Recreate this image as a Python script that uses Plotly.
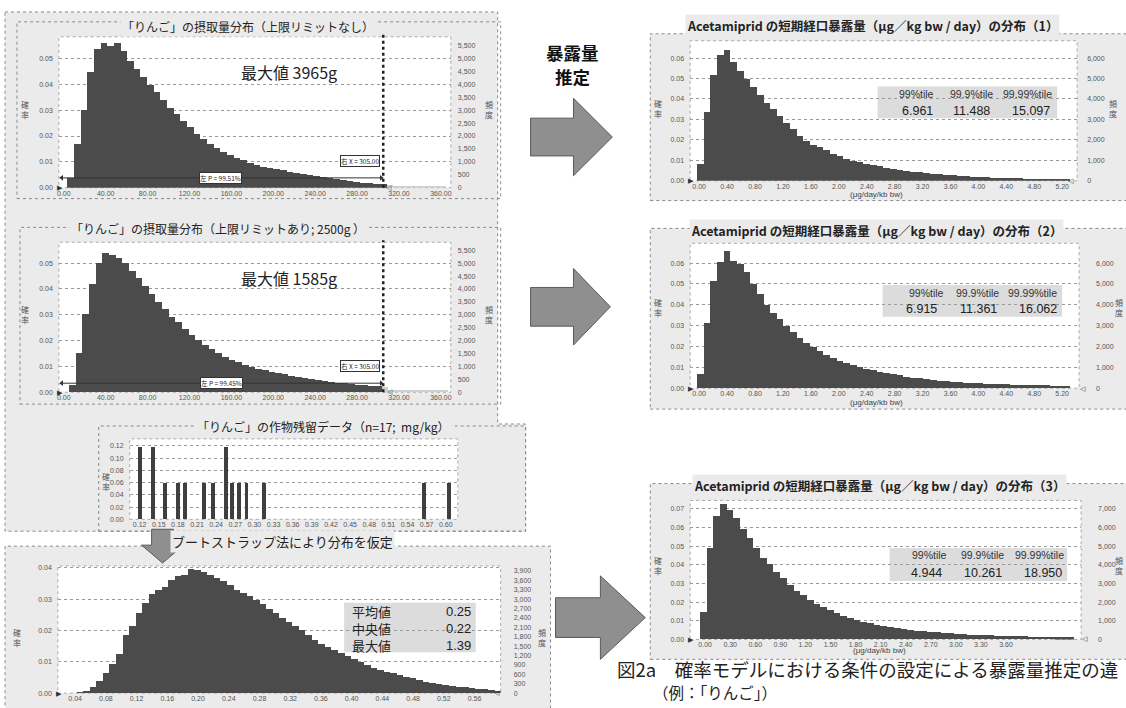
import plotly.graph_objects as go

W, H = 1126, 708
JP = "Noto Sans CJK JP"
NUM = "Liberation Sans"
BAR = "#4b4b4b"
TAIL = "#cfcfcf"
PANEL = "#ebebeb"
FRAME = "#8a8a8a"

# ------------------------------------------------------------------ DATA
# Panel A : apple intake distribution, no upper limit
a_title = "「りんご」の摂取量分布（上限リミットなし）"
a_note = "最大値 3965g"
a_bin_start = 3.2
a_bin_width = 6.35
a_prob = [0.004, 0.017, 0.030, 0.045, 0.054, 0.056, 0.055, 0.056, 0.053, 0.049,
          0.046, 0.043, 0.040, 0.037, 0.034, 0.031, 0.0285, 0.026, 0.0235, 0.021,
          0.019, 0.017, 0.0155, 0.014, 0.0128, 0.0117, 0.0107, 0.0098, 0.009, 0.0083,
          0.0077, 0.0072, 0.0068, 0.0063, 0.0058, 0.0053, 0.0049, 0.0045, 0.0041, 0.0037,
          0.0033, 0.003, 0.0027, 0.0024, 0.0021, 0.0019, 0.0017, 0.0015,
          0.0010, 0.0009, 0.0009, 0.0008, 0.0007, 0.0007, 0.0006, 0.0005, 0.0005]
a_cut = 305.0
a_cut_label = "右 X = 305.00"
a_pct_label = "左 P = 99.51%"

# Panel B : apple intake distribution, upper limit 2500 g
b_title = "「りんご」の摂取量分布（上限リミットあり; 2500g ）"
b_note = "最大値 1585g"
b_bin_start = 4.8
b_bin_width = 6.35
b_prob = [0.0026, 0.015, 0.030, 0.042, 0.050, 0.054, 0.053, 0.052, 0.050, 0.047,
          0.044, 0.041, 0.038, 0.035, 0.032, 0.029, 0.027, 0.0245, 0.022, 0.020,
          0.018, 0.0165, 0.015, 0.0135, 0.0125, 0.0115, 0.0105, 0.0097, 0.009, 0.0084,
          0.0078, 0.0073, 0.0068, 0.0063, 0.0058, 0.0054, 0.005, 0.0046, 0.0042, 0.0039,
          0.0036, 0.0033, 0.003, 0.0028, 0.0026, 0.0024, 0.0022, 0.002,
          0.0009, 0.0008, 0.0008, 0.0007, 0.0007, 0.0006, 0.0006, 0.0005, 0.0005]
b_cut = 305.0
b_cut_label = "右 X = 305.00"
b_pct_label = "左 P = 99.45%"

intake_xticks = [0, 40, 80, 120, 160, 200, 240, 280, 320, 360]
intake_xtext = ["0.00", "40.00", "80.00", "120.00", "160.00", "200.00", "240.00", "280.00", "320.00", "360.00"]
intake_yticks = [0, 0.01, 0.02, 0.03, 0.04, 0.05]
intake_ytext = ["0.00", "0.01", "0.02", "0.03", "0.04", "0.05"]
intake_rticks = [0, 500, 1000, 1500, 2000, 2500, 3000, 3500, 4000, 4500, 5000, 5500]
intake_rtext = ["0", "500", "1,000", "1,500", "2,000", "2,500", "3,000", "3,500", "4,000", "4,500", "5,000", "5,500"]

# Panel C : residue data (n=17, mg/kg)
c_title = "「りんご」の作物残留データ（n=17;  mg/kg）"
c_residue = [0.12, 0.14, 0.16, 0.18, 0.19, 0.22, 0.235, 0.255, 0.265, 0.275, 0.287, 0.315, 0.565, 0.605]
c_prob = [0.1176, 0.1176, 0.0588, 0.0588, 0.0588, 0.0588, 0.0588, 0.1176, 0.0588, 0.0588, 0.0588, 0.0588, 0.0588, 0.0588]
c_xticks = [0.12, 0.15, 0.18, 0.21, 0.24, 0.27, 0.30, 0.33, 0.36, 0.39, 0.42, 0.45, 0.48, 0.51, 0.54, 0.57, 0.60]
c_xtext = ["0.12", "0.15", "0.18", "0.21", "0.24", "0.27", "0.30", "0.33", "0.36", "0.39", "0.42", "0.45", "0.48", "0.51", "0.54", "0.57", "0.60"]
c_yticks = [0, 0.02, 0.04, 0.06, 0.08, 0.10, 0.12]
c_ytext = ["0.00", "0.02", "0.04", "0.06", "0.08", "0.10", "0.12"]

# Panel D : bootstrap distribution
d_title = "ブートストラップ法により分布を仮定"
d_bin_start = 0.042
d_bin_width = 0.0085
d_prob = [0.0003, 0.0008, 0.0019, 0.0038, 0.0065, 0.0093, 0.0124, 0.0186, 0.0215, 0.0257,
          0.0289, 0.0315, 0.0330, 0.0339, 0.0360, 0.0373, 0.0378, 0.0397, 0.0392, 0.0387,
          0.0378, 0.0368, 0.0358, 0.0345, 0.0330, 0.0320, 0.0310, 0.0296, 0.0284, 0.0268,
          0.0255, 0.0240, 0.0226, 0.0213, 0.0200, 0.0185, 0.0171, 0.0157, 0.0147, 0.0138,
          0.0129, 0.0118, 0.0109, 0.0099, 0.0089, 0.0081, 0.0074, 0.0068, 0.0063, 0.0057,
          0.0051, 0.0047, 0.0042, 0.0037, 0.0033, 0.0029, 0.0026, 0.0023, 0.0020, 0.0018,
          0.0016, 0.0014, 0.0012, 0.0010, 0.0008]
d_stat_names = ["平均値", "中央値", "最大値"]
d_stat_values = ["0.25", "0.22", "1.39"]
d_xticks = [0.04, 0.08, 0.12, 0.16, 0.20, 0.24, 0.28, 0.32, 0.36, 0.40, 0.44, 0.48, 0.52, 0.56]
d_xtext = ["0.04", "0.08", "0.12", "0.16", "0.20", "0.24", "0.28", "0.32", "0.36", "0.40", "0.44", "0.48", "0.52", "0.56"]
d_yticks = [0, 0.01, 0.02, 0.03, 0.04]
d_ytext = ["0.00", "0.01", "0.02", "0.03", "0.04"]
d_rticks = [0, 300, 600, 900, 1200, 1500, 1800, 2100, 2400, 2700, 3000, 3300, 3600, 3900]
d_rtext = ["0", "300", "600", "900", "1,200", "1,500", "1,800", "2,100", "2,400", "2,700", "3,000", "3,300", "3,600", "3,900"]

# Right panels : Acetamiprid short-term exposure
pct_names = ["99%tile", "99.9%tile", "99.99%tile"]
r1_title = "Acetamiprid の短期経口暴露量（μg／kg bw / day）の分布（1）"
r1_bin_start = -0.03
r1_bin_width = 0.0954
r1_prob = [0.0085, 0.034, 0.052, 0.0615, 0.064, 0.058, 0.054, 0.050, 0.046, 0.042,
           0.038, 0.035, 0.032, 0.0285, 0.0255, 0.022, 0.0195, 0.0175, 0.0165, 0.015,
           0.013, 0.012, 0.011, 0.010, 0.0093, 0.0085, 0.0078, 0.0072, 0.0066, 0.006,
           0.0055, 0.005, 0.0046, 0.0042, 0.0039, 0.0036, 0.0033, 0.003, 0.0028, 0.0026,
           0.0024, 0.0022, 0.002, 0.0019, 0.0017, 0.0016, 0.0015, 0.0014, 0.0013, 0.0012,
           0.0011, 0.0011, 0.001, 0.0009, 0.0009, 0.0008]
r1_pct = ["6.961", "11.488", "15.097"]

r2_title = "Acetamiprid の短期経口暴露量（μg／kg bw / day）の分布（2）"
r2_bin_start = -0.03
r2_bin_width = 0.0954
r2_prob = [0.0065, 0.031, 0.0515, 0.0605, 0.0655, 0.061, 0.0595, 0.0555, 0.050, 0.045,
           0.040, 0.036, 0.033, 0.0295, 0.027, 0.024, 0.0215, 0.0195, 0.0175, 0.016,
           0.0145, 0.013, 0.012, 0.011, 0.010, 0.0092, 0.0085, 0.0078, 0.0072, 0.0066,
           0.006, 0.0055, 0.005, 0.0046, 0.0042, 0.0038, 0.0035, 0.0032, 0.003, 0.0028,
           0.0026, 0.0024, 0.0022, 0.002, 0.0019, 0.0018, 0.0017, 0.0016, 0.0015, 0.0014,
           0.0013, 0.0012, 0.0012, 0.0011, 0.001, 0.001]
r2_pct = ["6.915", "11.361", "16.062"]

r_xticks = [0, 0.4, 0.8, 1.2, 1.6, 2.0, 2.4, 2.8, 3.2, 3.6, 4.0, 4.4, 4.8, 5.2]
r_xtext = ["0.00", "0.40", "0.80", "1.20", "1.60", "2.00", "2.40", "2.80", "3.20", "3.60", "4.00", "4.40", "4.80", "5.20"]
r_yticks = [0, 0.01, 0.02, 0.03, 0.04, 0.05, 0.06]
r_ytext = ["0.00", "0.01", "0.02", "0.03", "0.04", "0.05", "0.06"]
r_rticks = [0, 1000, 2000, 3000, 4000, 5000, 6000]
r_rtext = ["0", "1,000", "2,000", "3,000", "4,000", "5,000", "6,000"]

r3_title = "Acetamiprid の短期経口暴露量（μg／kg bw / day）の分布（3）"
r3_bin_start = -0.06
r3_bin_width = 0.08
r3_prob = [0.0145, 0.049, 0.066, 0.0725, 0.069, 0.065, 0.059, 0.054, 0.049, 0.0435,
           0.040, 0.036, 0.0325, 0.029, 0.026, 0.0235, 0.021, 0.019, 0.017, 0.0155,
           0.014, 0.0125, 0.0113, 0.0102, 0.0093, 0.0085, 0.0077, 0.007, 0.0064, 0.0058,
           0.0053, 0.0049, 0.0045, 0.0041, 0.0038, 0.0035, 0.0032, 0.003, 0.0028, 0.0026,
           0.0024, 0.0022, 0.0021, 0.0019, 0.0018, 0.0017, 0.0016, 0.0015, 0.0014, 0.0013,
           0.0012, 0.0012, 0.0011, 0.001, 0.001, 0.0009]
r3_pct = ["4.944", "10.261", "18.950"]
r3_xticks = [0, 0.3, 0.6, 0.9, 1.2, 1.5, 1.8, 2.1, 2.4, 2.7, 3.0, 3.3, 3.6]
r3_xtext = ["0.00", "0.30", "0.60", "0.90", "1.20", "1.50", "1.80", "2.10", "2.40", "2.70", "3.00", "3.30", "3.60"]
r3_yticks = [0, 0.01, 0.02, 0.03, 0.04, 0.05, 0.06, 0.07]
r3_ytext = ["0.00", "0.01", "0.02", "0.03", "0.04", "0.05", "0.06", "0.07"]
r3_rticks = [0, 1000, 2000, 3000, 4000, 5000, 6000, 7000]
r3_rtext = ["0", "1,000", "2,000", "3,000", "4,000", "5,000", "6,000", "7,000"]

exposure_unit = "(μg/day/kb bw)"
mid_label = ["暴露量", "推定"]
caption_1 = "図2a　確率モデルにおける条件の設定による暴露量推定の違"
caption_2 = "（例：「りんご」）"

# ------------------------------------------------------------------ HELPERS
fig = go.Figure()
shapes, annots, axes = [], [], {}
count = {"x": 0, "y": 0}


def fx(p):
    return p / W


def fy(p):
    return 1 - p / H


def new_axis(kind):
    count[kind] += 1
    n = count[kind]
    return (f"{kind}axis" if n == 1 else f"{kind}axis{n}"), (kind if n == 1 else f"{kind}{n}")


def rect(x0, y0, x1, y1, fill=None, line=None, dash="dot", width=1):
    shapes.append(dict(type="rect", xref="paper", yref="paper", layer="below",
                       x0=fx(x0), x1=fx(x1), y0=fy(y1), y1=fy(y0),
                       fillcolor=fill or "rgba(0,0,0,0)",
                       line=dict(color=line or "rgba(0,0,0,0)", width=width if line else 0, dash=dash)))


def path(points, fill=None, line=FRAME, dash="dot", width=1, layer="below"):
    d = "M " + " L ".join(f"{fx(x):.5f},{fy(y):.5f}" for x, y in points) + " Z"
    shapes.append(dict(type="path", xref="paper", yref="paper", layer=layer, path=d,
                       fillcolor=fill or "rgba(0,0,0,0)", line=dict(color=line, width=width, dash=dash)))


def text(x, y, s, size, color="#222", family=JP, xanchor="center", yanchor="middle", bg=None, pad=1):
    annots.append(dict(xref="paper", yref="paper", x=fx(x), y=fy(y), text=s, showarrow=False,
                       xanchor=xanchor, yanchor=yanchor, font=dict(size=size, color=color, family=family),
                       bgcolor=bg or "rgba(0,0,0,0)", borderpad=pad))


def marker(x, y, s):
    annots.append(dict(xref="paper", yref="paper", x=fx(x), y=fy(y), text=s, showarrow=False,
                       xanchor="center", yanchor="middle", font=dict(size=7, color="#333", family=NUM),
                       borderpad=0))


def centers(start, width, n):
    return [start + width * (i + 0.5) for i in range(n)]


def chart(box, xr, yr, xt, xtt, yt, ytt, rt=None, rtt=None, scale=100000, rstand=4):
    l, t, r, b = box
    rect(l, t, r, b, fill="white", line="#aaaaaa")
    xk, xref = new_axis("x")
    yk, yref = new_axis("y")
    tf = dict(family=NUM, size=7, color="#555")
    axes[xk] = dict(domain=[fx(l), fx(r)], range=xr, anchor=yref, tickvals=xt, ticktext=xtt,
                    showgrid=False, zeroline=False, showline=False, ticks="", tickfont=tf, fixedrange=True)
    axes[yk] = dict(domain=[fy(b), fy(t)], range=yr, anchor=xref, tickvals=yt, ticktext=ytt,
                    showgrid=True, gridcolor="#9a9a9a", griddash="dot", gridwidth=1,
                    zeroline=False, showline=False, ticks="", tickfont=tf, fixedrange=True,
                    ticklabelstandoff=5)
    if rt is not None:
        rk, rref = new_axis("y")
        axes[rk] = dict(range=[yr[0] * scale, yr[1] * scale], anchor=xref, overlaying=yref, side="right",
                        tickvals=rt, ticktext=rtt, showgrid=False, zeroline=False, showline=False,
                        ticks="", tickfont=tf, fixedrange=True, ticklabelstandoff=rstand)
        fig.add_trace(go.Scatter(x=[xr[0]], y=[0], xaxis=xref, yaxis=rref, mode="markers",
                                 marker=dict(opacity=0), hoverinfo="skip"))
    return xref, yref


def hist(xref, yref, start, width, values, cut=None):
    xs = centers(start, width, len(values))
    cols = [TAIL if (cut is not None and x > cut) else BAR for x in xs]
    fig.add_trace(go.Bar(x=xs, y=values, width=width, xaxis=xref, yaxis=yref,
                         marker=dict(color=cols, line=dict(width=0)), hoverinfo="skip"))


def vlabel(x, y, s):
    text(x, y, "<br>".join(s), 8, color="#555")


def right_arrow(x0, x1, xtip, ym, bh, hh):
    path([(x0, ym - bh / 2), (x1, ym - bh / 2), (x1, ym - hh / 2), (xtip, ym), (x1, ym + hh / 2),
          (x1, ym + bh / 2), (x0, ym + bh / 2)], fill="#8f8f8f", line="#5a5a5a", dash="solid", layer="above")


def delimiters(xref, yref, cut, top_px, bot_px, lab_top, lab_top_y, lab_bot, lab_bot_x, arrow_y):
    shapes.append(dict(type="line", xref=xref, yref="paper", x0=cut, x1=cut, y0=fy(bot_px), y1=fy(top_px),
                       line=dict(color="#222", width=2.5, dash="dot"), layer="above"))
    fig.add_trace(go.Scatter(x=[-2, cut - 2], y=[arrow_y, arrow_y], xaxis=xref, yaxis=yref, mode="lines+markers",
                             line=dict(color="#333", width=1),
                             marker=dict(symbol=["triangle-left", "triangle-right"], size=5, color="#333"),
                             hoverinfo="skip"))
    annots.append(dict(xref=xref, yref=yref, x=cut - 3, y=lab_top_y, text=lab_top, showarrow=False,
                       xanchor="right", yanchor="middle", font=dict(size=6.5, color="#222", family=JP),
                       bgcolor="white", bordercolor="#333", borderwidth=1, borderpad=0))
    annots.append(dict(xref=xref, yref=yref, x=lab_bot_x, y=arrow_y, text=lab_bot, showarrow=False,
                       xanchor="center", yanchor="middle", font=dict(size=6.5, color="#222", family=JP),
                       bgcolor="white", bordercolor="#333", borderwidth=1, borderpad=0))


def pct_table(box, head_y, val_y, head_x, val_right, values):
    rect(*box, fill="#dcdcdc")
    for hx, name in zip(head_x, pct_names):
        text(hx, head_y, name, 10.5, color="#333", family=NUM)
    for vx, v in zip(val_right, values):
        text(vx, val_y, v, 12.5, color="#222", family=NUM, xanchor="right")


# ------------------------------------------------------------------ FRAMES
path([(3, 10), (497, 10), (497, 425), (525, 425), (525, 533), (3, 533)], fill=PANEL)
rect(15, 20, 500, 198, line=FRAME)
rect(18, 227, 500, 405, line=FRAME)
rect(97, 427, 525, 533, line=FRAME)
rect(3, 548, 550, 712, fill=PANEL, line=FRAME)
rect(650, 32, 1130, 200, fill=PANEL, line=FRAME)
rect(650, 228, 1130, 410, fill=PANEL, line=FRAME)
rect(650, 485, 1130, 662, fill=PANEL, line=FRAME)

# ------------------------------------------------------------------ PANEL A
xa, ya = chart((57, 35, 450, 187), [-4.76, 369.5], [0, 0.05846], intake_xticks, intake_xtext,
               intake_yticks, intake_ytext, intake_rticks, intake_rtext, rstand=6)
hist(xa, ya, a_bin_start, a_bin_width, a_prob, a_cut)
delimiters(xa, ya, a_cut, 33, 187, a_cut_label, 0.0104, a_pct_label, 150, 0.0038)
text(247, 25, a_title, 12, bg=PANEL)
text(288, 70, a_note, 16)
vlabel(23, 108, "確率")
vlabel(488, 108, "頻度")
marker(58, 187, "▶")
marker(388, 187, "◁")

# ------------------------------------------------------------------ PANEL B
xb, yb = chart((57, 242, 450, 393), [-4.76, 369.5], [0, 0.05808], intake_xticks, intake_xtext,
               intake_yticks, intake_ytext, intake_rticks, intake_rtext, rstand=6)
hist(xb, yb, b_bin_start, b_bin_width, b_prob, b_cut)
delimiters(xb, yb, b_cut, 240, 393, b_cut_label, 0.0100, b_pct_label, 151, 0.0035)
text(217, 228, b_title, 12, bg=PANEL)
text(288, 278, b_note, 16)
vlabel(23, 315, "確率")
vlabel(488, 315, "頻度")
marker(58, 393, "▶")
marker(389, 392, "◁")

# ------------------------------------------------------------------ PANEL C
xc, yc = chart((128, 440, 457, 521), [0.1044, 0.6188], [0, 0.1313], c_xticks, c_xtext, c_yticks, c_ytext)
fig.add_trace(go.Bar(x=c_residue, y=c_prob, width=0.0062, xaxis=xc, yaxis=yc,
                     marker=dict(color="#3f3f3f", line=dict(width=0)), hoverinfo="skip"))
text(322, 428, c_title, 12, bg=PANEL)
vlabel(104, 483, "確率")

# ------------------------------------------------------------------ PANEL D
xd, yd = chart((56, 568, 500, 696), [0.0175, 0.594], [0, 0.0406], d_xticks, d_xtext,
               d_yticks, d_ytext, d_rticks, d_rtext, rstand=12)
hist(xd, yd, d_bin_start, d_bin_width, d_prob)
text(281, 543, d_title, 13, bg=PANEL)
vlabel(15, 640, "確率")
vlabel(541, 640, "頻度")
marker(57, 696, "▶")
marker(496, 695, "◁")
rect(343, 605, 475, 655, fill="#dcdcdc")
for i, (nm, vv) in enumerate(zip(d_stat_names, d_stat_values)):
    text(350, 614 + 17 * i, nm, 13, xanchor="left", pad=0)
    text(471, 614 + 17 * i, vv, 13, family=NUM, xanchor="right", pad=0)

# ------------------------------------------------------------------ RIGHT PANELS
x1, y1 = chart((690, 39, 1078, 180), [-0.129, 5.414], [0, 0.0685], r_xticks, r_xtext,
               r_yticks, r_ytext, r_rticks, r_rtext, rstand=9)
hist(x1, y1, r1_bin_start, r1_bin_width, r1_prob)
text(873, 24, "<b>" + r1_title + "</b>", 12.5, bg=PANEL)
text(877, 194, exposure_unit, 8, color="#444", family=NUM)
vlabel(658, 107, "確率")
vlabel(1114, 107, "頻度")
marker(691, 180, "▶")
marker(1072, 180, "◁")
pct_table((878, 85, 1058, 117), 93, 110, [917, 972, 1028], [935, 993, 1053], r1_pct)

x2, y2 = chart((690, 243, 1080, 389), [-0.129, 5.443], [0, 0.0695], r_xticks, r_xtext,
               r_yticks, r_ytext, r_rticks, r_rtext, rstand=16)
hist(x2, y2, r2_bin_start, r2_bin_width, r2_prob)
text(877, 230, "<b>" + r2_title + "</b>", 12.5, bg=PANEL)
text(877, 403, exposure_unit, 8, color="#444", family=NUM)
vlabel(658, 308, "確率")
vlabel(1120, 308, "頻度")
marker(691, 389, "▶")
marker(1084, 389, "◁")
pct_table((883, 285, 1063, 317), 293, 309, [927, 978, 1033], [940, 1000, 1060], r2_pct)

x3, y3 = chart((690, 502, 1082, 642), [-0.179, 4.499], [0, 0.0745], r3_xticks, r3_xtext,
               r3_yticks, r3_ytext, r3_rticks, r3_rtext, rstand=16)
hist(x3, y3, r3_bin_start, r3_bin_width, r3_prob)
text(880, 487, "<b>" + r3_title + "</b>", 12.5, bg=PANEL)
text(880, 653, exposure_unit, 8, color="#444", family=NUM, pad=0)
vlabel(658, 568, "確率")
vlabel(1120, 568, "頻度")
marker(691, 642, "▶")
marker(1086, 641, "◁")
pct_table((890, 550, 1068, 583), 557, 575, [930, 983, 1040], [945, 1005, 1065], r3_pct)

# ------------------------------------------------------------------ ARROWS & TEXT
right_arrow(530, 573, 612, 136, 38, 78)
right_arrow(530, 573, 610, 307, 39, 77)
right_arrow(555, 600, 645, 620, 40, 84)
path([(150, 531), (172, 531), (172, 547), (182, 547), (161, 565), (140, 547), (150, 547)],
     fill="#8f8f8f", line="#5a5a5a", dash="solid", layer="above")
text(572, 51, "<b>" + mid_label[0] + "</b>", 17.5, color="#111", pad=0)
text(572, 75, "<b>" + mid_label[1] + "</b>", 17.5, color="#111", pad=0)
text(616, 672, caption_1, 18.5, color="#222", xanchor="left", pad=0)
text(652, 695, caption_2, 15.5, color="#222", xanchor="left", pad=0)

fig.update_layout(width=W, height=H, margin=dict(l=0, r=0, t=0, b=0), paper_bgcolor="white",
                  plot_bgcolor="rgba(0,0,0,0)", showlegend=False, bargap=0, barmode="overlay",
                  shapes=shapes, annotations=annots, **axes)
fig.write_html("out.html", config={"displayModeBar": False},
               post_script="document.body.style.margin='0';document.body.style.overflow='hidden';")
